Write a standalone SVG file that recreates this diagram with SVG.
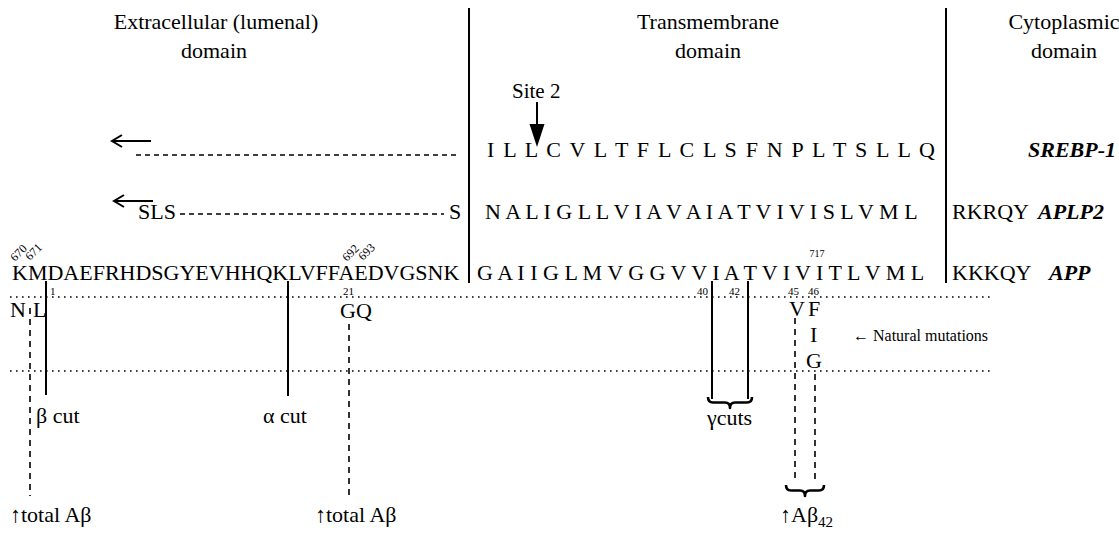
<svg xmlns="http://www.w3.org/2000/svg" width="1119" height="535" viewBox="0 0 1119 535">
<style>
text{font-family:"Liberation Serif","Times New Roman",serif;fill:#000}
.h{font-size:22px;text-anchor:middle}
.seq{font-size:22px}
.lab{font-size:22px;font-weight:bold;font-style:italic}
.sm{font-size:11px}
.rot{font-size:12px}
.solid{stroke:#000;stroke-width:2;fill:none}
.dash{stroke:#000;stroke-width:1.6;stroke-dasharray:6 5;fill:none}
.hdash{stroke:#000;stroke-width:1.5;stroke-dasharray:5 4;fill:none}
.dot{stroke:#000;stroke-width:1.6;stroke-dasharray:1.6 4.4;fill:none}
.brace{stroke:#000;stroke-width:2.6;fill:none;stroke-linejoin:round}
</style>
<rect width="1119" height="535" fill="#fff"/>
<g id="headers">
<g id="extracellular"><text class="h" x="216" y="29">Extracellular (lumenal)</text><text class="h" x="214" y="58">domain</text></g>
<g id="transmembrane"><text class="h" x="708" y="29">Transmembrane</text><text class="h" x="708" y="58">domain</text></g>
<g id="cytoplasmic"><text class="h" x="1064" y="29">Cytoplasmic</text><text class="h" x="1064" y="58">domain</text></g>
</g>
<g id="site2"><text x="512" y="98" style="font-size:21px">Site 2</text>
<line x1="537" y1="102" x2="537" y2="126" class="solid"/><polygon points="529.5,124 544.5,124 537,147" fill="#000"/></g>
<g id="srebp1">
<text class="seq" x="487" y="157" textLength="448" lengthAdjust="spacing">I L L C V L T F L C L S F N P L T S L L Q</text>
<text class="lab" x="1028" y="157">SREBP-1</text>
</g>
<g id="aplp2">
<text class="seq" x="138" y="219">SLS</text>
<text class="seq" x="449" y="219">S</text>
<text class="seq" x="485" y="219">N A L I G L L V I A V A I A T V I V I S L V M L</text>
<text class="seq" x="952" y="219">RKRQY</text>
<text class="lab" x="1038" y="219">APLP2</text>
</g>
<g id="app">
<text class="seq" x="12" y="280">KMDAEFRHDSGYEVHHQKLVFFAEDVGSNK</text>
<text class="seq" x="477" y="280">G A I I G L M V G G V V I A T V I V I T L V M L</text>
<text class="seq" x="952" y="280">KKKQY</text>
<text class="lab" x="1049" y="280">APP</text>
<text class="rot" transform="translate(15,262) rotate(-45)">670</text>
<text class="rot" transform="translate(30,261) rotate(-45)">671</text>
<text class="rot" transform="translate(347,262) rotate(-45)">692</text>
<text class="rot" transform="translate(363,261) rotate(-45)">693</text>
<text x="817" y="257" text-anchor="middle" style="font-size:10px">717</text>
</g>
<g id="residue-numbers">
<text class="sm" x="50" y="295">1</text>
<text class="sm" x="343" y="295">21</text>
<text class="sm" x="697" y="295">40</text>
<text class="sm" x="729" y="295">42</text>
<text class="sm" x="788" y="295">45</text>
<text class="sm" x="808" y="295">46</text>
</g>
<g id="mutations">
<text class="seq" x="10" y="317">N</text>
<text class="seq" x="33" y="317">L</text>
<text class="seq" x="340" y="318">GQ</text>
<text class="seq" x="789" y="316">V</text>
<text class="seq" x="808" y="316">F</text>
<text class="seq" x="810" y="342">I</text>
<text class="seq" x="806" y="368">G</text>
<text x="853" y="341" style="font-size:16px">← Natural mutations</text>
</g>
<g id="cut-labels">
<text class="seq" x="36" y="423">β cut</text>
<text class="seq" x="263" y="423">α cut</text>
<text class="seq" x="707" y="425">γcuts</text>
</g>
<g id="effects">
<text class="seq" x="10" y="522">↑total Aβ</text>
<text class="seq" x="315" y="522">↑total Aβ</text>
<text class="seq" x="780" y="522">↑Aβ<tspan style="font-size:15px" dy="5">42</tspan></text>
</g>
<g id="connectors">
<line x1="469" y1="8" x2="469" y2="283" class="solid"/>
<line x1="946" y1="8" x2="946" y2="283" class="solid"/>
<line x1="136" y1="155" x2="460" y2="155" class="hdash"/>
<line x1="180" y1="214" x2="444" y2="214" class="hdash"/>
<path d="M113 141 H151 M122 135 L112 141 L122 147" class="solid"/>
<path d="M115 201 H153 M124 195 L114 201 L124 207" class="solid"/>
<line x1="10" y1="297" x2="990" y2="297" class="dot"/>
<line x1="10" y1="371" x2="990" y2="371" class="dot"/>
<line x1="46" y1="281" x2="46" y2="395" class="solid"/>
<line x1="288" y1="281" x2="288" y2="396" class="solid"/>
<line x1="712" y1="281" x2="712" y2="399" class="solid"/>
<line x1="748" y1="281" x2="748" y2="399" class="solid"/>
<line x1="30" y1="308" x2="30" y2="496" class="dash"/>
<line x1="349" y1="324" x2="349" y2="496" class="dash"/>
<line x1="795" y1="318" x2="795" y2="482" class="dash"/>
<line x1="815" y1="374" x2="815" y2="482" class="dash"/>
<path d="M708 397 Q708 402.5 713 402.5 L725 402.5 Q730 402.5 730 408 Q730 402.5 735 402.5 L747 402.5 Q752 402.5 752 397" class="brace"/>
<path d="M786 485 Q786 490.5 791 490.5 L800 490.5 Q805 490.5 805 496 Q805 490.5 810 490.5 L819 490.5 Q824 490.5 824 485" class="brace"/>
</g>
</svg>
